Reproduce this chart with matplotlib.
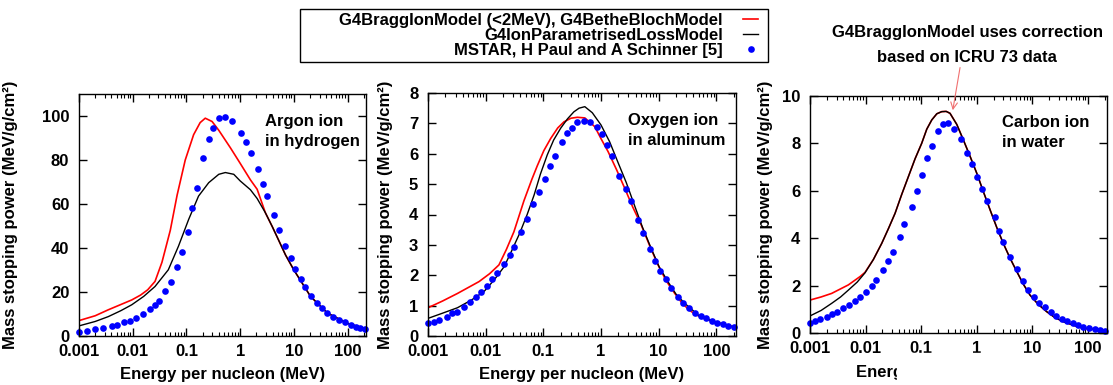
import numpy as np
import matplotlib.pyplot as plt
from matplotlib.ticker import FixedLocator, LogLocator, NullFormatter
from matplotlib.patches import Rectangle

plt.rcParams['font.family'] = ['Liberation Sans', 'DejaVu Sans']
plt.rcParams['font.weight'] = 'bold'
plt.rcParams['axes.labelweight'] = 'bold'
plt.rcParams['font.size'] = 12

W, H = 1113, 385

# ---- Argon ion in hydrogen ----
ar_bragg_e = [0.001, 0.002, 0.0035, 0.006, 0.0096, 0.014, 0.019, 0.026, 0.035, 0.05,
              0.067, 0.095, 0.136, 0.18, 0.224, 0.30, 0.40, 0.53, 0.66, 1.0,
              1.55, 2.07, 2.95, 4.0, 5.1, 7.0, 10, 20.4, 41.7, 100, 200]
ar_bragg_s = [7.0, 9.2, 11.9, 14.3, 16.4, 18.6, 21.0, 24.8, 33.5, 48,
              64, 80, 91.5, 97, 99, 97.5, 93.5, 89, 85.5, 78.5,
              71, 66.7, 56, 49.5, 44, 36.8, 30, 18, 10.5, 5.7, 3.6]
ar_param_e = [0.001, 0.002, 0.0035, 0.006, 0.0096, 0.016, 0.026, 0.046, 0.071, 0.11,
              0.168, 0.26, 0.40, 0.53, 0.76, 1.0, 1.55, 2.07, 2.95, 4.0,
              5.1, 7.0, 10, 20.4, 41.7, 100, 200]
ar_param_s = [4.6, 6.6, 8.8, 11.5, 14.2, 18.0, 22.5, 30.1, 40.8, 53,
              63.6, 69.7, 73.5, 74.3, 73.5, 70.5, 66.5, 62.5, 56, 49.5,
              44, 36.8, 30, 18, 10.5, 5.7, 3.6]
ar_mstar_e = [0.001, 0.00139, 0.002, 0.00284, 0.00417, 0.00519, 0.0070, 0.0089, 0.0117, 0.0158,
              0.0211, 0.0263, 0.0311, 0.0403, 0.0525, 0.0661, 0.0824, 0.105, 0.128, 0.158,
              0.204, 0.259, 0.309, 0.407, 0.513, 0.706, 1.04, 1.31, 1.60, 2.12,
              2.63, 3.16, 4.22, 5.25, 6.76, 8.65, 10.7, 13.3, 16.4, 20.9,
              26.9, 33.9, 41.7, 53.7, 69.2, 87.9, 114, 141, 170, 209]
ar_mstar_s = [2.0, 2.4, 3.0, 3.5, 4.7, 5.0, 6.2, 7.0, 8.4, 10.0,
              12.3, 14.2, 16.1, 20.5, 24.7, 31.4, 38.2, 47.3, 58, 67.1,
              80.8, 89.5, 94.4, 99, 99.7, 97.9, 92.5, 88.0, 83.4, 75.8,
              69, 63.6, 54.8, 48.4, 41.1, 35.5, 30.4, 25.9, 22.5, 18,
              14.9, 12.6, 10.4, 8.5, 7.3, 6.2, 5.2, 4.3, 3.8, 3.1]

# ---- Oxygen ion in aluminum ----
ox_bragg_e = [0.001, 0.00178, 0.00324, 0.00766, 0.0117, 0.017, 0.0229, 0.0309, 0.0461, 0.0631,
              0.0785, 0.102, 0.134, 0.178, 0.228, 0.302, 0.389, 0.525, 0.783, 1.0,
              1.33, 1.86, 2.59, 3.55, 5.01, 7.08, 9.77, 13.5, 19.1, 26.3,
              37.2, 50.1, 70.8, 126, 200]
ox_bragg_s = [0.93, 1.15, 1.4, 1.79, 2.05, 2.34, 2.85, 3.43, 4.45, 5.15,
              5.6, 6.1, 6.5, 6.85, 7.05, 7.17, 7.2, 7.18, 6.89, 6.5,
              6.07, 5.48, 4.86, 4.25, 3.65, 2.95, 2.34, 1.82, 1.4, 1.05,
              0.8, 0.65, 0.53, 0.4, 0.3]
ox_param_e = [0.001, 0.00178, 0.00324, 0.00562, 0.00933, 0.0141, 0.0209, 0.0282, 0.0389, 0.0525,
              0.0692, 0.0891, 0.117, 0.151, 0.2, 0.263, 0.339, 0.417, 0.525, 0.708,
              1.0, 1.41, 1.95, 2.75, 3.8, 5.25, 7.41, 10.2, 14.5, 20,
              28.2, 50.1, 89.1, 200]
ox_param_s = [0.58, 0.75, 0.93, 1.18, 1.46, 1.85, 2.28, 2.8, 3.38, 4.0,
              4.64, 5.33, 5.96, 6.45, 6.84, 7.15, 7.38, 7.5, 7.55, 7.35,
              6.95, 6.4, 5.74, 5.05, 4.31, 3.58, 2.89, 2.28, 1.79, 1.38,
              1.08, 0.67, 0.48, 0.3]
ox_mstar_e = [0.001, 0.00127, 0.00155, 0.00211, 0.00263, 0.00324, 0.00421, 0.00537, 0.00676, 0.0084,
              0.0105, 0.013, 0.0158, 0.0207, 0.0263, 0.0316, 0.0417, 0.0525, 0.0668, 0.084,
              0.105, 0.13, 0.158, 0.207, 0.259, 0.316, 0.389, 0.513, 0.646, 0.838,
              1.05, 1.27, 1.56, 2.04, 2.67, 3.3, 4.31, 5.37, 7.08, 8.51,
              10.5, 13.2, 16.6, 21.4, 26.3, 33.1, 42.7, 53.7, 67.6, 85.1,
              105, 132, 158, 204]
ox_mstar_s = [0.42, 0.47, 0.53, 0.64, 0.75, 0.80, 0.965, 1.11, 1.29, 1.46,
              1.66, 1.88, 2.06, 2.37, 2.67, 2.92, 3.43, 3.84, 4.35, 4.75,
              5.16, 5.61, 5.94, 6.40, 6.69, 6.86, 7.04, 7.08, 7.03, 6.89,
              6.64, 6.3, 5.94, 5.28, 4.84, 4.44, 3.82, 3.38, 2.86, 2.48,
              2.14, 1.88, 1.57, 1.29, 1.07, 0.91, 0.75, 0.66, 0.58, 0.50,
              0.44, 0.38, 0.34, 0.29]

# ---- Carbon ion in water ----
c_bragg_e = [0.001, 0.00158, 0.00245, 0.0049, 0.00794, 0.00977, 0.0138, 0.0195, 0.0257, 0.0339,
             0.0447, 0.0589, 0.0776, 0.102, 0.126, 0.155, 0.191, 0.234, 0.282, 0.33,
             0.437, 0.575, 0.759, 1.0, 1.32, 1.74, 2.29, 3.0, 3.98, 5.25,
             6.92, 9.06, 12.6, 18.1, 25.1, 36, 56.2, 82.4, 126, 200]
c_bragg_s = [1.39, 1.52, 1.67, 2.03, 2.38, 2.56, 3.1, 3.78, 4.4, 5.05,
             5.85, 6.6, 7.35, 8.0, 8.6, 8.99, 9.25, 9.34, 9.35, 9.27,
             8.8, 8.14, 7.45, 6.74, 5.95, 5.19, 4.45, 3.78, 3.15, 2.59,
             2.05, 1.6, 1.22, 0.90, 0.66, 0.48, 0.32, 0.2, 0.16, 0.1]
c_param_e = [0.001, 0.00158, 0.00245, 0.00355, 0.0049, 0.00708, 0.00977, 0.0138, 0.0195, 0.0257,
             0.0339, 0.0447, 0.0589, 0.0776, 0.102, 0.126, 0.155, 0.191, 0.234, 0.282,
             0.33, 0.437, 0.575, 0.759, 1.0, 1.32, 1.74, 2.29, 3.0, 3.98,
             5.25, 6.92, 9.06, 12.6, 18.1, 25.1, 36, 56.2, 82.4, 126, 200]
c_param_s = [0.72, 0.95, 1.25, 1.52, 1.81, 2.15, 2.54, 3.1, 3.78, 4.4,
             5.05, 5.85, 6.6, 7.35, 8.0, 8.6, 8.99, 9.25, 9.34, 9.35,
             9.27, 8.8, 8.14, 7.45, 6.74, 5.95, 5.19, 4.45, 3.78, 3.15,
             2.59, 2.05, 1.6, 1.22, 0.90, 0.66, 0.48, 0.32, 0.2, 0.16, 0.1]
c_mstar_e = [0.001, 0.00123, 0.00151, 0.002, 0.00251, 0.00302, 0.00398, 0.00513, 0.00646, 0.00794,
             0.0102, 0.0129, 0.0151, 0.0204, 0.0257, 0.0309, 0.0417, 0.0501, 0.0676, 0.0832,
             0.102, 0.129, 0.155, 0.204, 0.251, 0.309, 0.389, 0.52, 0.661, 0.813,
             1.02, 1.26, 1.55, 2.12, 2.54, 3.0, 3.98, 5.25, 6.68, 8.43,
             10.7, 13.2, 16.9, 21.4, 26.3, 33.9, 41.4, 53.1, 67, 82.4,
             105, 134, 164, 204]
c_mstar_s = [0.44, 0.51, 0.58, 0.69, 0.79, 0.90, 1.04, 1.18, 1.36, 1.53,
             1.74, 1.98, 2.24, 2.66, 3.05, 3.40, 4.06, 4.60, 5.33, 5.99,
             6.67, 7.37, 7.89, 8.54, 8.82, 8.87, 8.59, 8.17, 7.61, 7.13,
             6.57, 6.06, 5.58, 4.88, 4.32, 3.85, 3.19, 2.70, 2.21, 1.81,
             1.53, 1.28, 1.08, 0.90, 0.72, 0.60, 0.49, 0.41, 0.34, 0.27,
             0.20, 0.16, 0.13, 0.07]

x_ticks = [0.001, 0.01, 0.1, 1, 10, 100]
x_tick_labels = ['0.001', '0.01', '0.1', '1', '10', '100']

labels = ['G4BraggIonModel (<2MeV), G4BetheBlochModel',
          'G4IonParametrisedLossModel',
          'MSTAR, H Paul and A Schinner [5]']

fig = plt.figure(figsize=(W / 100, H / 100), dpi=100)


def add_px_axes(left, top, right, bottom):
    return fig.add_axes([left / W, 1 - bottom / H, (right - left) / W, (bottom - top) / H])


panels = [
    dict(box=(79, 94, 366, 336), ylim=110, yticks=[0, 20, 40, 60, 80, 100],
         bragg=(ar_bragg_e, ar_bragg_s), param=(ar_param_e, ar_param_s),
         mstar=(ar_mstar_e, ar_mstar_s), name='Argon ion\nin hydrogen', ylab_x=-61),
    dict(box=(428, 93, 736, 336), ylim=8, yticks=list(range(9)),
         bragg=(ox_bragg_e, ox_bragg_s), param=(ox_param_e, ox_param_s),
         mstar=(ox_mstar_e, ox_mstar_s), name='Oxygen ion\nin aluminum', ylab_x=-35),
    dict(box=(810, 96, 1107, 333), ylim=10, yticks=[0, 2, 4, 6, 8, 10],
         bragg=(c_bragg_e, c_bragg_s), param=(c_param_e, c_param_s),
         mstar=(c_mstar_e, c_mstar_s), name='Carbon ion\nin water', ylab_x=-37),
]

axes = []
for p in panels:
    l, t, r, b = p['box']
    ax = add_px_axes(l, t, r, b)
    ax.plot(*p['bragg'], color='#ff0000', lw=1.2, label=labels[0])
    ax.plot(*p['param'], color='black', lw=1.0, label=labels[1])
    ax.plot(*p['mstar'], 'o', color='#0000ff', ms=4.8, mec='none',
            clip_on=False, label=labels[2])
    ax.set_xscale('log')
    ax.set_xlim(0.001, 220)
    ax.set_ylim(0, p['ylim'])
    ax.xaxis.set_major_locator(FixedLocator(x_ticks))
    ax.set_xticklabels(x_tick_labels)
    ax.xaxis.set_minor_locator(LogLocator(base=10, subs=np.arange(2, 10), numticks=20))
    ax.xaxis.set_minor_formatter(NullFormatter())
    ax.set_yticks(p['yticks'])
    ax.tick_params(which='both', direction='in', top=True, right=True, labelsize=12)
    ax.tick_params(which='major', length=6, width=1)
    ax.tick_params(which='minor', length=3, width=0.8)
    ax.tick_params(axis='x', pad=6)
    ax.tick_params(axis='y', pad=7)
    for s in ax.spines.values():
        s.set_linewidth(1.0)
    ax.set_ylabel('Mass stopping power (MeV/g/cm²)', fontsize=12)
    ax.yaxis.set_label_coords(p['ylab_x'] / (r - l), 0.5)
    ax.set_xlabel('Energy per nucleon (MeV)', fontsize=12, va='center')
    ax.xaxis.set_label_coords(0.5, -39 / (b - t))
    ax.text(0.648, 0.845, p['name'], transform=ax.transAxes, ha='left', va='center',
            fontsize=12, linespacing=1.45)
    axes.append(ax)

# arrow pointing at the carbon Bragg peak
axes[2].annotate('', xy=(0.37, 9.4), xytext=(0.5, 11.2),
                 arrowprops=dict(arrowstyle='->', color='#f07070', lw=0.8,
                                 shrinkA=0, shrinkB=0),
                 annotation_clip=False)
fig.text(967 / W, 1 - 32 / H, 'G4BraggIonModel uses correction', ha='center', va='center', fontsize=12)
fig.text(967 / W, 1 - 58 / H, 'based on ICRU 73 data', ha='center', va='center', fontsize=12)

handles, labs = axes[0].get_legend_handles_labels()
fig.legend(handles, labs, loc='upper right', bbox_to_anchor=(773 / W, 1 + 2 / H),
           frameon=False, markerfirst=False, handlelength=0.9, handletextpad=1.2,
           labelspacing=0.0, borderpad=0.4, numpoints=1, fontsize=12)
fig.add_artist(Rectangle((300 / W, 1 - 62 / H), 468 / W, 53 / H, transform=fig.transFigure,
                         fill=False, lw=1.0, ec='black'))

# blank strip over the lower right corner
fig.add_artist(Rectangle((897 / W, 0), (W - 897) / W, (H - 353) / H, transform=fig.transFigure,
                         color='white', zorder=10))

fig.savefig('out.png', dpi=100)
